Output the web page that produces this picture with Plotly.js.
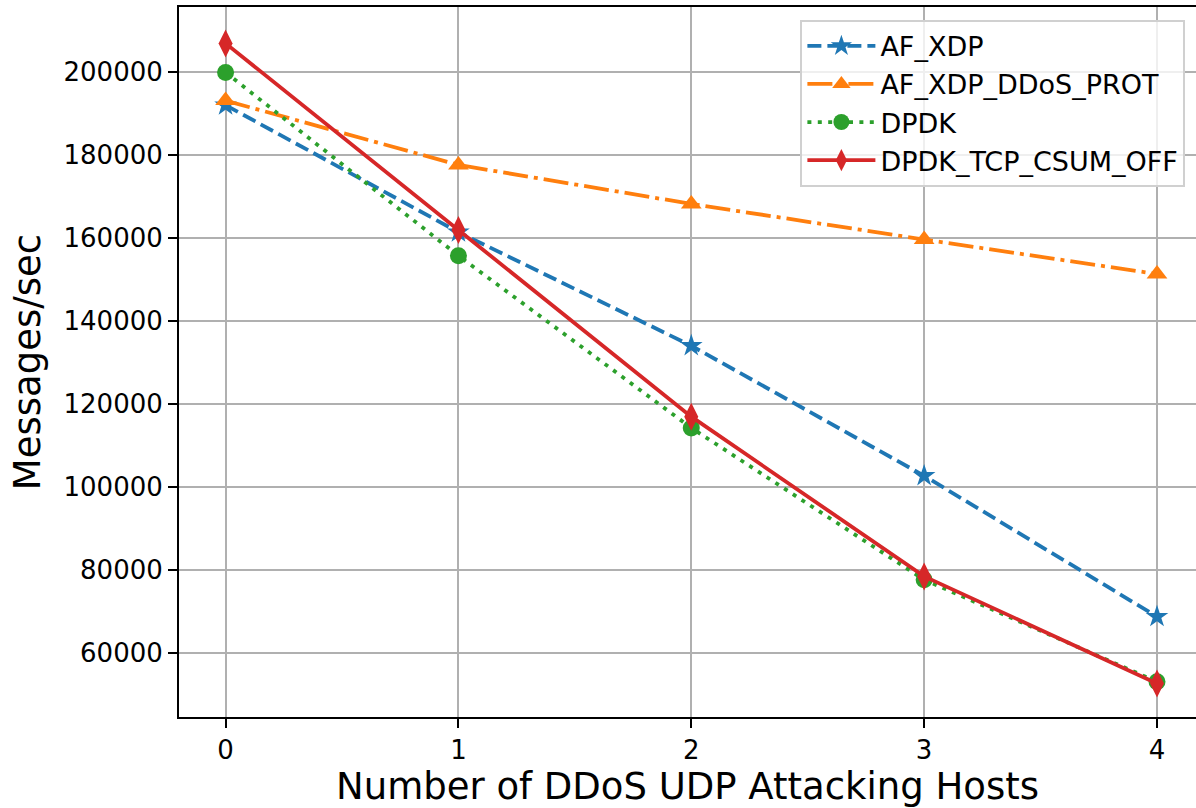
<!DOCTYPE html>
<html>
<head>
<meta charset="utf-8">
<script src="https://cdn.plot.ly/plotly-3.0.1.min.js"></script>
<style>html,body{margin:0;padding:0;background:#fff}#chart{width:1196px;height:808px}</style>
</head>
<body>
<div id="chart"></div>
<script>
const hosts = [0, 1, 2, 3, 4];
const afXdp = [192000, 161400, 134000, 102650, 68700];
const afXdpDdosProt = [193100, 177600, 168200, 159600, 151300];
const dpdk = [199900, 155700, 114200, 77600, 53000];
const dpdkTcpCsumOff = [206900, 161900, 116900, 78400, 52600];
const seriesNames = ['AF_XDP', 'AF_XDP_DDoS_PROT', 'DPDK', 'DPDK_TCP_CSUM_OFF'];
const yTicks = [60000, 80000, 100000, 120000, 140000, 160000, 180000, 200000];

const LW = 3.8;
const traces = [
  {x: hosts, y: afXdp, name: seriesNames[0], mode: 'lines+markers',
   line: {color: '#1f77b4', width: LW, dash: '14px,6px'},
   marker: {symbol: 'star', size: 17, color: '#1f77b4'}},
  {x: hosts, y: afXdpDdosProt, name: seriesNames[1], mode: 'lines+markers',
   line: {color: '#ff7f0e', width: LW, dash: '25px,6px,4px,6px'},
   marker: {symbol: 'triangle-up', size: 18, color: '#ff7f0e'}},
  {x: hosts, y: dpdk, name: seriesNames[2], mode: 'lines+markers',
   line: {color: '#2ca02c', width: LW, dash: '4px,6.4px'},
   marker: {symbol: 'circle', size: 17, color: '#2ca02c'}},
  {x: hosts, y: dpdkTcpCsumOff, name: seriesNames[3], mode: 'lines+markers',
   line: {color: '#d62728', width: LW},
   marker: {symbol: 'diamond-tall', size: 20, color: '#d62728'}}
];

const layout = {
  width: 1196, height: 808,
  margin: {l: 179, r: 0, t: 7, b: 91, pad: 0},
  paper_bgcolor: '#fff', plot_bgcolor: '#fff',
  font: {family: 'DejaVu Sans', size: 26, color: '#000'},
  showlegend: true,
  legend: {
    x: 0.611, y: 0.982, xanchor: 'left', yanchor: 'top',
    bgcolor: 'rgba(255,255,255,0.8)', bordercolor: '#d0d0d0', borderwidth: 2,
    font: {family: 'DejaVu Sans', size: 27, color: '#000'},
    itemwidth: 68, traceorder: 'normal'
  },
  xaxis: {
    range: [-0.2, 4.1675], tickvals: hosts, ticktext: hosts.map(String),
    showgrid: true, gridcolor: '#b0b0b0', gridwidth: 2,
    showline: true, linecolor: '#000', linewidth: 2, mirror: true,
    ticks: 'outside', ticklen: 9, tickwidth: 2, tickcolor: '#000',
    zeroline: false, tickfont: {size: 26},
    title: {text: 'Number of DDoS UDP Attacking Hosts', font: {size: 37}, standoff: 10}
  },
  yaxis: {
    range: [44500, 215670], tickvals: yTicks, ticktext: yTicks.map(String),
    showgrid: true, gridcolor: '#b0b0b0', gridwidth: 2,
    showline: true, linecolor: '#000', linewidth: 2,
    ticks: 'outside', ticklen: 9, tickwidth: 2, tickcolor: '#000',
    zeroline: false, tickfont: {size: 26},
    title: {text: 'Messages/sec', font: {size: 37}, standoff: 12}
  }
};

Plotly.newPlot('chart', traces, layout, {staticPlot: true, displayModeBar: false});
</script>
</body>
</html>
